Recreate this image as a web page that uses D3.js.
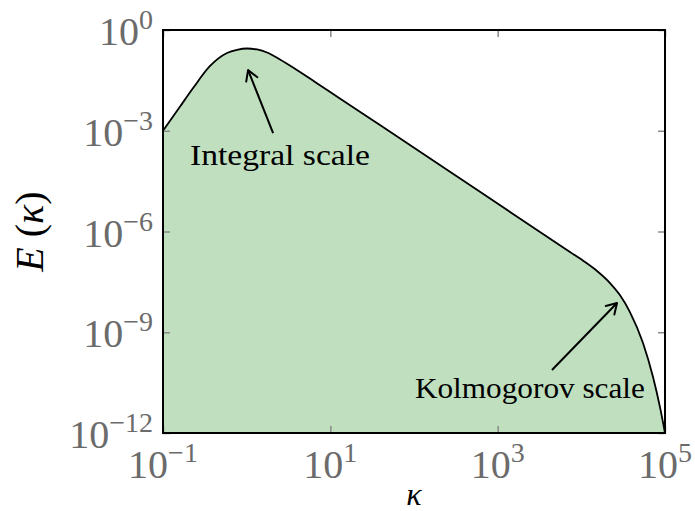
<!DOCTYPE html>
<html>
<head>
<meta charset="utf-8">
<script src="https://cdn.jsdelivr.net/npm/d3@7"></script>
<style>
  body { margin: 0; background: #fff; }
  text { font-family: "Liberation Serif", serif; }
</style>
</head>
<body>
<svg id="chart" width="695" height="511"></svg>
<script>
// spectrum
const kappa = [0.1, 0.16, 0.229, 0.365, 0.582, 0.766, 1.01, 1.33, 1.75, 2.5, 3.78, 6.56, 13.0, 39.2, 615, 7310, 11070, 15400, 22000, 28900, 38100, 54600, 71800, 87100, 100000];
const energy = [1e-3, 5.27e-3, 1.87e-2, 8.5e-2, 0.207, 0.257, 0.281, 0.263, 0.214, 0.132, 7.0e-2, 2.83e-2, 9.1e-3, 1.48e-3, 1.52e-5, 2.45e-7, 1.23e-7, 6.65e-8, 2.92e-8, 1.28e-8, 4.0e-9, 4.8e-10, 4.7e-11, 5.9e-12, 1e-12];

const xTicks = [1e-1, 1e1, 1e3, 1e5];
const xTickExp = ["−1", "1", "3", "5"];
const yTicks = [1e0, 1e-3, 1e-6, 1e-9, 1e-12];
const yTickExp = ["0", "−3", "−6", "−9", "−12"];

const annotations = [
  { text: "Integral scale", head: [1.04, 0.064], tail: [2.07, 8.5e-4], label: [2.5, 9.5e-5], width: 180 },
  { text: "Kolmogorov scale", head: [26700, 7.4e-9], tail: [4460, 7.5e-11], label: [2430, 1.1e-11], width: 230 }
];

const data = kappa.map((k, i) => ({ k: k, e: energy[i] }));

const svg = d3.select("#chart");
const margin = { top: 30, right: 30, bottom: 78, left: 163 };
const width = 695, height = 511;

const x = d3.scaleLog().domain([1e-1, 1e5]).range([margin.left, width - margin.right]);
const y = d3.scaleLog().domain([1e-12, 1e0]).range([height - margin.bottom, margin.top]);

svg.append("defs").append("marker")
  .attr("id", "arrow")
  .attr("viewBox", "-12 -8 14 16")
  .attr("markerWidth", 14)
  .attr("markerHeight", 16)
  .attr("markerUnits", "userSpaceOnUse")
  .attr("refX", 0)
  .attr("refY", 0)
  .attr("orient", "auto")
  .append("path")
  .attr("d", "M-10,-6 L0,0 L-10,6")
  .attr("fill", "none")
  .attr("stroke", "black")
  .attr("stroke-width", 2)
  .attr("stroke-linecap", "round")
  .attr("stroke-linejoin", "round");

const area = d3.area()
  .x(d => x(d.k))
  .y0(y(1e-12))
  .y1(d => y(d.e))
  .curve(d3.curveMonotoneX);

const line = d3.line()
  .x(d => x(d.k))
  .y(d => y(d.e))
  .curve(d3.curveMonotoneX);

svg.append("path")
  .datum(data)
  .attr("d", area)
  .attr("fill", "#bfdfbf");

svg.append("path")
  .datum(data)
  .attr("d", line)
  .attr("fill", "none")
  .attr("stroke", "black")
  .attr("stroke-width", 1.8);

// ticks on all four sides, pointing in
const tickColor = "#8a8a8a";
function styleAxis(g) {
  g.select(".domain").remove();
  g.selectAll(".tick line").attr("stroke", tickColor).attr("stroke-width", 1.5);
  g.selectAll(".tick text").remove();
}
svg.append("g").attr("transform", `translate(0,${y(1e-12)})`)
  .call(d3.axisBottom(x).tickValues(xTicks).tickSize(-7)).call(styleAxis);
svg.append("g").attr("transform", `translate(0,${y(1e0)})`)
  .call(d3.axisTop(x).tickValues(xTicks).tickSize(-7)).call(styleAxis);
svg.append("g").attr("transform", `translate(${x(1e-1)},0)`)
  .call(d3.axisLeft(y).tickValues(yTicks).tickSize(-7)).call(styleAxis);
svg.append("g").attr("transform", `translate(${x(1e5)},0)`)
  .call(d3.axisRight(y).tickValues(yTicks).tickSize(-7)).call(styleAxis);

// frame
svg.append("rect")
  .attr("x", x(1e-1))
  .attr("y", y(1e0))
  .attr("width", x(1e5) - x(1e-1))
  .attr("height", y(1e-12) - y(1e0))
  .attr("fill", "none")
  .attr("stroke", "black")
  .attr("stroke-width", 2);

// tick labels
const labelColor = "#6b6b6b";
xTicks.forEach((t, i) => {
  const txt = svg.append("text")
    .attr("x", x(t))
    .attr("y", y(1e-12) + 45)
    .attr("text-anchor", "middle")
    .attr("fill", labelColor)
    .attr("font-size", 40);
  txt.append("tspan").text("10");
  txt.append("tspan").attr("dy", -16).attr("font-size", 28).text(xTickExp[i]);
});
yTicks.forEach((t, i) => {
  const txt = svg.append("text")
    .attr("x", x(1e-1) - 10)
    .attr("y", y(t) + 15)
    .attr("text-anchor", "end")
    .attr("fill", labelColor)
    .attr("font-size", 40);
  txt.append("tspan").text("10");
  txt.append("tspan").attr("dy", -16).attr("font-size", 28).text(yTickExp[i]);
});

// axis titles
const yTitle = svg.append("text")
  .attr("transform", `translate(43,${(y(1e0) + y(1e-12)) / 2}) rotate(-90)`)
  .attr("text-anchor", "middle")
  .attr("fill", "black")
  .attr("font-size", 40);
yTitle.append("tspan").attr("font-style", "italic").text("E");
yTitle.append("tspan").text(" (");
yTitle.append("tspan").attr("font-style", "italic").text("κ");
yTitle.append("tspan").text(")");

svg.append("text")
  .attr("x", (x(1e-1) + x(1e5)) / 2)
  .attr("y", 505)
  .attr("text-anchor", "middle")
  .attr("font-family", "DejaVu Sans")
  .attr("font-style", "italic")
  .attr("font-size", 32)
  .attr("fill", "black")
  .text("κ");

// annotations
annotations.forEach(a => {
  svg.append("line")
    .attr("x1", x(a.tail[0]))
    .attr("y1", y(a.tail[1]))
    .attr("x2", x(a.head[0]))
    .attr("y2", y(a.head[1]))
    .attr("stroke", "black")
    .attr("stroke-width", 2)
    .attr("marker-end", "url(#arrow)");
  svg.append("text")
    .attr("x", x(a.label[0]))
    .attr("y", y(a.label[1]))
    .attr("text-anchor", "middle")
    .attr("font-size", 30)
    .attr("fill", "black")
    .attr("textLength", a.width)
    .attr("lengthAdjust", "spacingAndGlyphs")
    .text(a.text);
});
</script>
</body>
</html>
